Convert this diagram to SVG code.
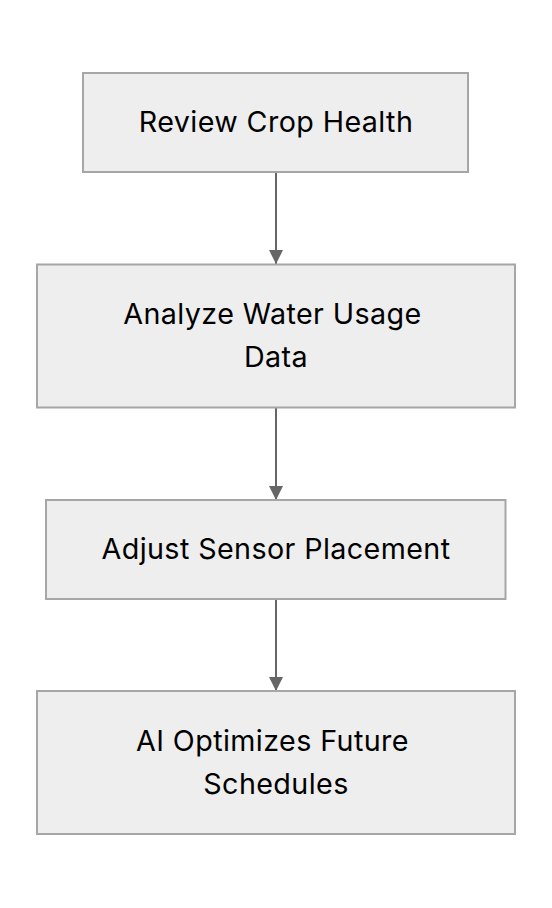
<svg xmlns="http://www.w3.org/2000/svg" width="552" height="908" viewBox="0 0 552 908">
<style>
.node rect{fill:#eeeeee;stroke:#a6a6a6;stroke-width:2}
.node text{font-family:Inter,"Liberation Sans",sans-serif;font-size:28.7px;letter-spacing:0.4px;fill:#000;text-anchor:middle;dominant-baseline:central}
.edge{stroke:#666;stroke-width:2;fill:none;marker-end:url(#arr)}
</style>
<defs>
<marker id="arr" markerWidth="14" markerHeight="14" refX="14" refY="7" orient="auto" markerUnits="userSpaceOnUse">
<path d="M0,0 L14,7 L0,14 Z" fill="#666"/>
</marker>
</defs>
<rect width="552" height="908" fill="#fff"/>
<g id="connectors">
<path class="edge" d="M276,173 L276,264"/>
<path class="edge" d="M276,408 L276,500"/>
<path class="edge" d="M276,600 L276,691"/>
</g>
<g id="n1" class="node">
<rect x="83" y="73" width="385" height="99"/>
<text x="276" y="121.5">Review Crop Health</text>
</g>
<g id="n2" class="node">
<rect x="37" y="264.5" width="478" height="143"/>
<text x="272.5" y="313">Analyze Water Usage</text>
<text x="276" y="356">Data</text>
</g>
<g id="n3" class="node">
<rect x="46" y="500" width="459.5" height="99"/>
<text x="276" y="548.5">Adjust Sensor Placement</text>
</g>
<g id="n4" class="node">
<rect x="37" y="691" width="478" height="143"/>
<text x="272.5" y="740">AI Optimizes Future</text>
<text x="276" y="783">Schedules</text>
</g>
</svg>
